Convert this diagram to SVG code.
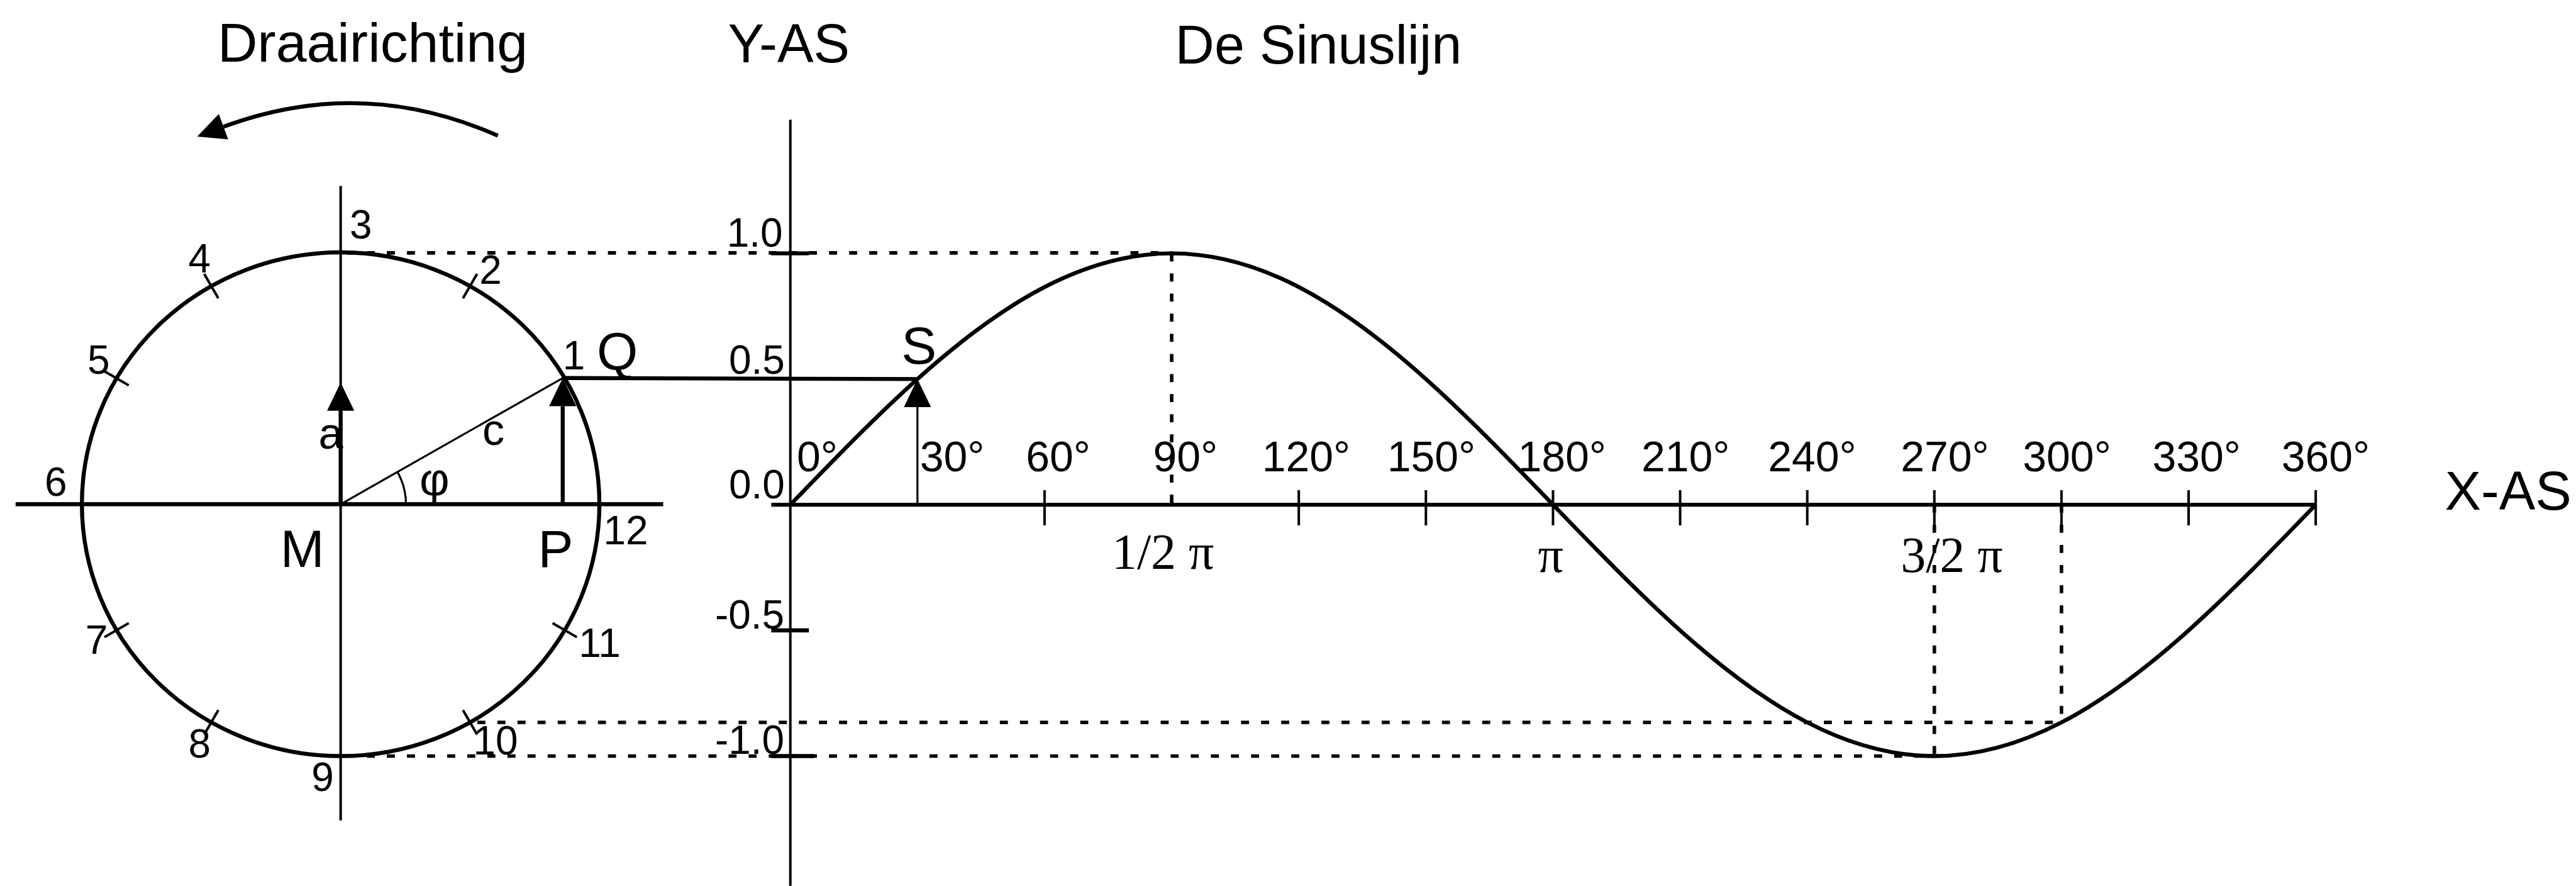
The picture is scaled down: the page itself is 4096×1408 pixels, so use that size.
<svg xmlns="http://www.w3.org/2000/svg" width="4096" height="1408" viewBox="0 0 4096 1408">
<style>
.ln{stroke:#000;fill:none;stroke-linecap:butt}
.th{stroke-width:8}
.md{stroke-width:5}
.tn{stroke-width:4}
.dot{stroke:#000;stroke-width:7;fill:none;stroke-dasharray:16 24}
.t{font-family:"Liberation Sans",Arial,sans-serif;fill:#000}
.h{font-size:108px}
.n{font-size:80px}
.L{font-size:105px}
.d{font-size:85px}
.s{font-family:"Liberation Serif","Times New Roman",serif;font-size:100px;fill:#000}
</style>
<defs>
<marker id="ah" viewBox="0 0 56 54" refX="0" refY="27" markerWidth="56" markerHeight="54" markerUnits="userSpaceOnUse" orient="auto">
<path d="M0,0 L56,27 L0,54 z" fill="#000"/>
</marker>
</defs>
<rect width="4096" height="1408" fill="#fff"/>
<g transform="scale(0.7989)">
<g id="titles">
<text class="t h" x="433" y="123" style="font-size:110px">Draairichting</text>
<text class="t h" x="1449" y="124">Y-AS</text>
<text class="t h" x="2339" y="126">De Sinuslijn</text>
<text class="t h" x="4866" y="1014">X-AS</text>
</g>
<g id="rotation">
<path class="ln th" d="M 991 270 Q 720 150 445 252" marker-end="url(#ah)"/>
</g>
<g id="circle">
<ellipse class="ln th" cx="678" cy="1003" rx="515" ry="501"/>
<line class="ln th" x1="31" y1="1003" x2="1320" y2="1003"/>
<line class="ln md" x1="678" y1="370" x2="678" y2="1632"/>
<g class="ln md">
<line x1="949.5" y1="544.8" x2="921.5" y2="593.3"/>
<line x1="406.5" y1="544.8" x2="434.5" y2="593.3"/>
<line x1="207.8" y1="738.5" x2="256.2" y2="766.5"/>
<line x1="207.8" y1="1267.5" x2="256.2" y2="1239.5"/>
<line x1="406.5" y1="1461.2" x2="434.5" y2="1412.7"/>
<line x1="949.5" y1="1461.2" x2="921.5" y2="1412.7"/>
<line x1="1148.2" y1="1267.5" x2="1099.8" y2="1239.5"/>
</g>
<line class="ln tn" x1="678" y1="1003" x2="1120" y2="752"/>
<path class="ln tn" d="M 808 1003 A 130 130 0 0 0 790.6 938"/>
<line class="ln th" x1="678" y1="1003" x2="678" y2="817" marker-end="url(#ah)"/>
<line class="ln th" x1="1120" y1="1003" x2="1120" y2="808" marker-end="url(#ah)"/>
<g class="t n">
<text x="1120" y="735">1</text>
<text x="954" y="565">2</text>
<text x="696" y="474">3</text>
<text x="375" y="542">4</text>
<text x="174" y="743">5</text>
<text x="89" y="987">6</text>
<text x="170" y="1301">7</text>
<text x="375" y="1507">8</text>
<text x="620" y="1574">9</text>
<text x="942" y="1501">10</text>
<text x="1152" y="1307">11</text>
<text x="1201" y="1083">12</text>
<text x="634" y="893" style="font-size:88px">a</text>
<text x="960" y="885" style="font-size:88px">c</text>
<text x="835" y="985" style="font-size:92px">φ</text>
</g>
<g class="t L">
<text x="1188" y="735">Q</text>
<text x="558" y="1128">M</text>
<text x="1071" y="1128">P</text>
</g>
</g>
<g id="connectors">
<line class="ln th" x1="1120" y1="752" x2="1826" y2="754"/>
<line class="dot" x1="690" y1="503" x2="2332" y2="503"/>
<line class="dot" x1="950" y1="1437" x2="4103" y2="1437"/>
<line class="dot" x1="690" y1="1504" x2="3850" y2="1504"/>
<line class="dot" x1="2332" y1="504" x2="2332" y2="1004"/>
<line class="dot" x1="3850" y1="1004" x2="3850" y2="1504"/>
<line class="dot" x1="4103" y1="1004" x2="4103" y2="1437"/>
</g>
<g id="graph">
<line class="ln md" x1="1573" y1="238" x2="1573" y2="1762"/>
<line class="ln th" x1="1535" y1="1004" x2="4609" y2="1004"/>
<g class="ln th">
<line x1="1535" y1="504" x2="1610" y2="504"/>
<line x1="1535" y1="1254" x2="1610" y2="1254"/>
<line x1="1535" y1="1504" x2="1620" y2="1504"/>
</g>
<g class="ln md">
<line x1="2079" y1="975" x2="2079" y2="1045"/>
<line x1="2585" y1="975" x2="2585" y2="1045"/>
<line x1="2838" y1="975" x2="2838" y2="1045"/>
<line x1="3091" y1="975" x2="3091" y2="1045"/>
<line x1="3344" y1="975" x2="3344" y2="1045"/>
<line x1="3597" y1="975" x2="3597" y2="1045"/>
<line x1="3850" y1="975" x2="3850" y2="1045"/>
<line x1="4103" y1="975" x2="4103" y2="1045"/>
<line x1="4356" y1="975" x2="4356" y2="1045"/>
<line x1="4609" y1="975" x2="4609" y2="1045"/>
</g>
<path class="ln th" d="M1573,1004 C1657.33,916.73 1741.67,829.58 1826,754 C1910.33,678.42 1994.67,614.64 2079,571 C2163.33,527.36 2247.67,504 2332,504 C2416.33,504 2500.67,527.36 2585,571 C2669.33,614.64 2753.67,678.42 2838,754 C2922.33,829.58 3006.67,916.73 3091,1004 C3175.33,1091.27 3259.67,1178.42 3344,1254 C3428.33,1329.58 3512.67,1393.36 3597,1437 C3681.33,1480.64 3765.67,1504 3850,1504 C3934.33,1504 4018.67,1480.64 4103,1437 C4187.33,1393.36 4271.67,1329.58 4356,1254 C4440.33,1178.42 4524.67,1091.27 4609,1004"/>
<line class="ln tn" x1="1826" y1="1004" x2="1826" y2="810" marker-end="url(#ah)"/>
<text class="t L" x="1794" y="724">S</text>
<g class="t n" text-anchor="end">
<text x="1558" y="491">1.0</text>
<text x="1562" y="743">0.5</text>
<text x="1562" y="992">0.0</text>
<text x="1561" y="1250">-0.5</text>
<text x="1561" y="1499">-1.0</text>
</g>
<g class="t d">
<text x="1586" y="938">0°</text>
<text x="1831" y="938">30°</text>
<text x="2042" y="938">60°</text>
<text x="2295" y="938">90°</text>
<text x="2512" y="938">120°</text>
<text x="2761" y="938">150°</text>
<text x="3021" y="938">180°</text>
<text x="3267" y="938">210°</text>
<text x="3519" y="938">240°</text>
<text x="3783" y="938">270°</text>
<text x="4026" y="938">300°</text>
<text x="4284" y="938">330°</text>
<text x="4541" y="938">360°</text>
</g>
<text class="s" x="2213" y="1132">1/2 π</text>
<text class="s" x="3061" y="1138">π</text>
<text class="s" x="3783" y="1138">3/2 π</text>
</g>
</g>
</svg>
